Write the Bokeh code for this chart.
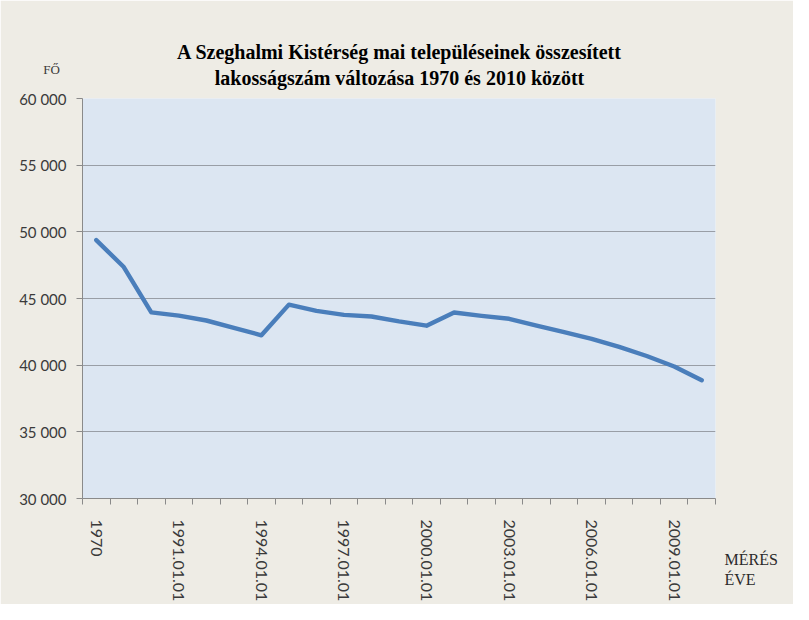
import math
import numpy as np
from bokeh.plotting import figure
from bokeh.models import Range1d, FixedTicker, Label
from bokeh.embed import file_html
from bokeh.resources import INLINE

# ---- data ----
categories = ["1970", "1980", "1990", "1991.01.01", "1992.01.01", "1993.01.01",
              "1994.01.01", "1995.01.01", "1996.01.01", "1997.01.01", "1998.01.01",
              "1999.01.01", "2000.01.01", "2001.01.01", "2002.01.01", "2003.01.01",
              "2004.01.01", "2005.01.01", "2006.01.01", "2007.01.01", "2008.01.01",
              "2009.01.01", "2010.01.01"]
population = [49380, 47360, 43960, 43720, 43350, 42800, 42240, 44540, 44070, 43770,
              43650, 43280, 42960, 43950, 43700, 43480, 42960, 42470, 41980, 41370,
              40690, 39900, 38870]
shown_labels = ["1970", "1991.01.01", "1994.01.01", "1997.01.01", "2000.01.01",
                "2003.01.01", "2006.01.01", "2009.01.01"]
y_ticks = [30000, 35000, 40000, 45000, 50000, 55000, 60000]
title_lines = ["A Szeghalmi Kistérség mai településeinek összesített",
               "lakosságszám változása 1970 és 2010 között"]
y_title = "FŐ"
x_title = "MÉRÉS\nÉVE"

# ---- layout ----
W, H = 793, 604
L, R, T, B = 82, 78, 98, 101
FW, FH = W - L - R, H - T - B
Y0, Y1 = y_ticks[0], y_ticks[-1]
n = len(categories)
xs = np.arange(n) + 0.5
FRAME_RIGHT = W - R
FRAME_BOTTOM = T + FH

BG = "#EEECE5"
p = figure(width=W, height=H, x_range=Range1d(0, n), y_range=Range1d(Y0, Y1),
           output_backend="svg", toolbar_location=None,
           min_border_left=L, min_border_right=R, min_border_top=T, min_border_bottom=B)
p.background_fill_color = "#DCE6F2"
p.border_fill_color = BG
p.outline_line_color = None
p.title.visible = False

p.line(xs, population, line_color="#4A7EBB", line_width=4.4, line_join="round", line_cap="round")

# grid
p.xgrid.visible = False
p.ygrid.ticker = FixedTicker(ticks=y_ticks)
p.ygrid.grid_line_color = "#999EA6"
p.ygrid.grid_line_width = 1

AX = "#8A8A8A"
TXT = "#3A3A3A"
# y axis
ya = p.yaxis[0]
ya.ticker = FixedTicker(ticks=y_ticks)
ya.major_label_overrides = {t: f"{t:,}".replace(",", " ") for t in y_ticks}
ya.axis_line_color = AX
ya.major_tick_line_color = AX
ya.major_tick_out = 6
ya.major_tick_in = 0
ya.minor_tick_line_color = None
ya.major_label_standoff = 10
ya.major_label_text_font = "Lato"
ya.major_label_text_font_size = "15px"
ya.major_label_text_color = TXT

# x axis
xa = p.xaxis[0]
major = [float(xs[i]) for i, c in enumerate(categories) if c in shown_labels]
xa.ticker = FixedTicker(ticks=major, minor_ticks=list(range(n + 1)))
xa.major_label_overrides = {float(xs[i]): c for i, c in enumerate(categories) if c in shown_labels}
xa.axis_line_color = AX
xa.major_tick_line_color = None
xa.major_tick_out = 0
xa.major_tick_in = 0
xa.minor_tick_line_color = AX
xa.minor_tick_out = 6
xa.minor_tick_in = 0
xa.major_label_orientation = -math.pi / 2
xa.major_label_standoff = 15
xa.major_label_text_font = "Lato"
xa.major_label_text_font_size = "16px"
xa.major_label_text_color = TXT

# title: centred two-line label in the panel above the frame (screen units)
p.add_layout(Label(x=399 - L, y=T - 64.5, x_units="screen", y_units="screen",
                   text="\n".join(title_lines), text_align="center", text_baseline="middle",
                   text_font="Liberation Serif", text_font_style="bold",
                   text_font_size="20px", text_line_height=1.2, text_color="#000000"), "above")

# axis titles, placed in the right-hand side panel (screen units)
p.add_layout(Label(x=51 - FRAME_RIGHT, y=FRAME_BOTTOM - 74, x_units="screen",
                   y_units="screen", text=y_title, text_align="center",
                   text_baseline="middle", text_font="Liberation Serif",
                   text_font_size="13px", text_color=TXT), "right")
p.add_layout(Label(x=-8, y=FRAME_BOTTOM - 574, x_units="screen",
                   y_units="screen", text=x_title, text_align="left",
                   text_baseline="middle", text_font="Liberation Serif",
                   text_font_size="16px", text_line_height=1.15, text_color="#2A2A2A"), "right")

open("out.html", "w").write(file_html(p, INLINE))
